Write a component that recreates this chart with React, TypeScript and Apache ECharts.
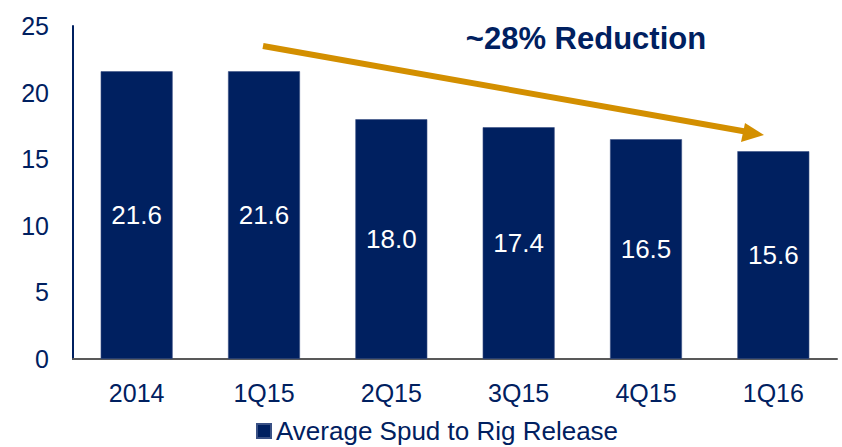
import React, { useEffect, useRef } from "react";
import * as echarts from "echarts";

const categories = ["2014", "1Q15", "2Q15", "3Q15", "4Q15", "1Q16"];
const spudToRig = [21.6, 21.6, 18.0, 17.4, 16.5, 15.6];
const seriesName = "Average Spud to Rig Release";
const annotationText = "~28% Reduction";

const NAVY = "#002060";
const GOLD = "#D38F00";
const FONT = "Liberation Sans, Arial, sans-serif";

export default function App() {
  const ref = useRef<HTMLDivElement>(null);
  useEffect(() => {
    if (!ref.current) return;
    const chart = echarts.init(ref.current, undefined, { renderer: "svg" });
    chart.setOption({
      animation: false,
      textStyle: { fontFamily: FONT },
      grid: { left: 73, right: 5, top: 26, bottom: 88, containLabel: false },
      legend: {
        top: 418,
        left: 256,
        padding: 0,
        itemWidth: 14,
        itemHeight: 14,
        itemGap: 10,
        icon: "rect",
        textStyle: {
          color: NAVY,
          fontSize: 26,
          fontFamily: FONT,
          padding: [0, 0, 0, 0],
        },
        data: [seriesName],
      },
      xAxis: {
        type: "category",
        data: categories,
        axisLine: { show: true, lineStyle: { color: "#595959", width: 2 } },
        axisTick: { show: false },
        axisLabel: { color: NAVY, fontSize: 25, fontFamily: FONT, margin: 21 },
      },
      yAxis: {
        type: "value",
        min: 0,
        max: 25,
        interval: 5,
        splitLine: { show: false },
        axisLine: { show: true, lineStyle: { color: NAVY, width: 2 } },
        axisTick: { show: false },
        axisLabel: { color: NAVY, fontSize: 25, fontFamily: FONT, margin: 24 },
      },
      series: [
        {
          name: seriesName,
          type: "bar",
          data: spudToRig,
          barWidth: "56.5%",
          itemStyle: { color: NAVY, borderColor: "#3A5185", borderWidth: 0.6 },
          label: {
            show: true,
            position: "inside",
            color: "#ffffff",
            fontSize: 26,
            fontFamily: FONT,
            formatter: (p: any) => Number(p.value).toFixed(1),
          },
        },
      ],
      graphic: [
        {
          type: "line",
          shape: { x1: 263, y1: 46, x2: 748, y2: 132 },
          style: { stroke: GOLD, lineWidth: 6 },
        },
        {
          type: "polygon",
          shape: { points: [[764, 135], [745, 123], [741, 142]] },
          style: { fill: GOLD },
        },
        {
          type: "text",
          x: 586,
          y: 38,
          style: {
            text: annotationText,
            fill: NAVY,
            font: "bold 31px " + FONT,
            textAlign: "center",
            textVerticalAlign: "middle",
          },
        },
      ],
    });
    return () => chart.dispose();
  }, []);
  return (
    <div
      ref={ref}
      style={{ position: "absolute", left: 0, top: 0, width: 842, height: 447 }}
    />
  );
}
